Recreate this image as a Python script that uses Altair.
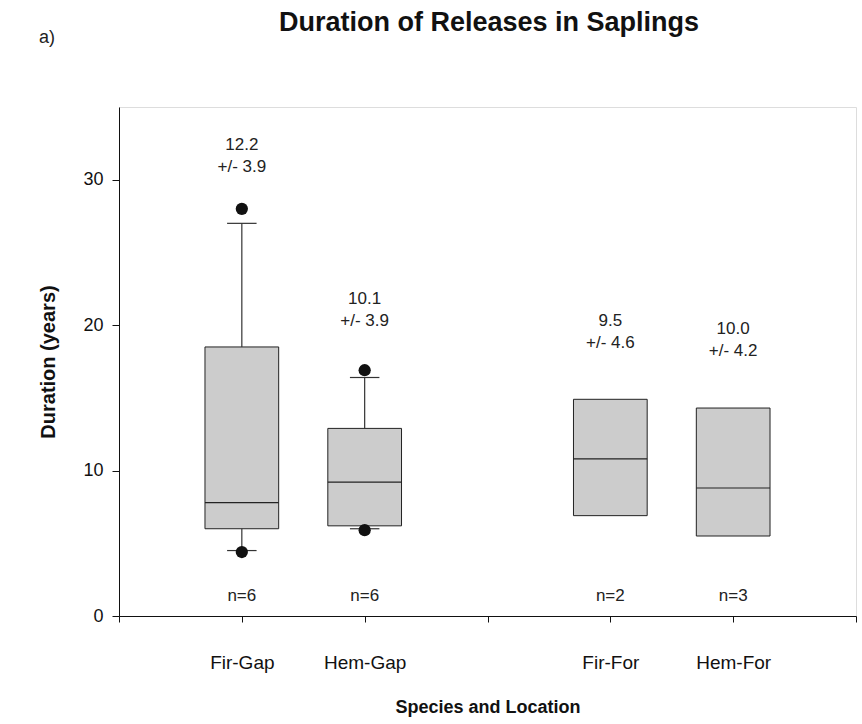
import altair as alt
import pandas as pd

# Box-plot summaries for release duration (years) by species and location
groups = ["Fir-Gap", "Hem-Gap", "Fir-For", "Hem-For"]
slot = [1, 2, 4, 5]                      # position of each group on the x axis
q1 = [6.0, 6.2, 6.9, 5.5]
median = [7.8, 9.2, 10.8, 8.8]
q3 = [18.5, 12.9, 14.9, 14.3]
whisker_lo = [4.5, 6.0, None, None]
whisker_hi = [27.0, 16.4, None, None]
mean = [12.2, 10.1, 9.5, 10.0]
sd = [3.9, 3.9, 4.6, 4.2]
n_obs = [6, 6, 2, 3]

outlier_group = ["Fir-Gap", "Fir-Gap", "Hem-Gap", "Hem-Gap"]
outlier_value = [28.0, 4.4, 16.9, 5.9]

TITLE = "Duration of Releases in Saplings"
PANEL = "a)"

BOX_HALF = 0.3
CAP_HALF = 0.12

boxes = pd.DataFrame({
    "group": groups, "slot": slot, "q1": q1, "median": median, "q3": q3,
    "lo": whisker_lo, "hi": whisker_hi, "mean": mean, "sd": sd, "n": n_obs,
})
boxes["left"] = boxes["slot"] - BOX_HALF
boxes["right"] = boxes["slot"] + BOX_HALF
boxes["cap_l"] = boxes["slot"] - CAP_HALF
boxes["cap_r"] = boxes["slot"] + CAP_HALF
boxes["top"] = boxes[["q3", "hi"]].max(axis=1)
boxes["label"] = [f"{m:.1f}\n+/- {s:.1f}" for m, s in zip(mean, sd)]
boxes["nlabel"] = [f"n={k}" for k in n_obs]
boxes["zero"] = 0.0

slot_of = dict(zip(groups, slot))
outliers = pd.DataFrame({
    "group": outlier_group,
    "slot": [slot_of[g] for g in outlier_group],
    "value": outlier_value,
})

whiskers = boxes.dropna(subset=["lo", "hi"])

FONT = "Liberation Sans"
INK = "#111"
xscale = alt.Scale(domain=[0, 6], nice=False, zero=False)
yscale = alt.Scale(domain=[0, 35], nice=False)

label_expr = " : ".join(
    f"datum.value == {s} ? '{g}'" for s, g in zip(slot, groups)
) + " : ''"

x_axis = alt.Axis(
    title="Species and Location", values=list(range(0, 7)), labelExpr=label_expr,
    grid=False, tickSize=6, labelPadding=31, titlePadding=26,
    labelFontSize=19, titleFontSize=18, labelFont=FONT, titleFont=FONT,
    titleFontWeight="bold", labelColor=INK, titleColor=INK,
    domainColor=INK, tickColor=INK, labelFlush=False,
)
y_axis = alt.Axis(
    title="Duration (years)", values=[0, 10, 20, 30], grid=False, tickSize=7,
    labelPadding=9, titlePadding=24, labelFontSize=18, titleFontSize=20,
    labelFont=FONT, titleFont=FONT, titleFontWeight="bold",
    labelColor=INK, titleColor=INK, domainColor=INK, tickColor=INK,
)

base = alt.Chart(boxes)

box = base.mark_rect(fill="#cccccc", stroke="#222", strokeWidth=1).encode(
    x=alt.X("left:Q", scale=xscale, axis=x_axis),
    x2="right:Q",
    y=alt.Y("q1:Q", scale=yscale, axis=y_axis),
    y2="q3:Q",
)

med = base.mark_rule(color="#222", strokeWidth=1.2).encode(
    x="left:Q", x2="right:Q", y="median:Q"
)

wb = alt.Chart(whiskers)
whisk_up = wb.mark_rule(color="#333", strokeWidth=1.2).encode(x="slot:Q", y="q3:Q", y2="hi:Q")
whisk_dn = wb.mark_rule(color="#333", strokeWidth=1.2).encode(x="slot:Q", y="q1:Q", y2="lo:Q")
cap_up = wb.mark_rule(color="#333", strokeWidth=1.2).encode(x="cap_l:Q", x2="cap_r:Q", y="hi:Q")
cap_dn = wb.mark_rule(color="#333", strokeWidth=1.2).encode(x="cap_l:Q", x2="cap_r:Q", y="lo:Q")

dots = alt.Chart(outliers).mark_circle(size=150, color=INK, opacity=1).encode(
    x="slot:Q", y="value:Q"
)

stats = base.mark_text(
    font=FONT, fontSize=17, color="#222", baseline="bottom", lineBreak="\n",
    lineHeight=22,
).encode(
    x="slot:Q",
    y=alt.Y("ylab:Q"),
    text="label:N",
).transform_calculate(ylab="datum.top + 4.8")

counts = base.mark_text(
    font=FONT, fontSize=17, color="#222", baseline="middle", dy=-20,
).encode(x="slot:Q", y="zero:Q", text="nlabel:N")

heading = alt.Chart(pd.DataFrame({"t": [TITLE]})).mark_text(
    font=FONT, fontSize=27, fontWeight="bold", color=INK,
    align="center", baseline="alphabetic",
).encode(x=alt.value(370), y=alt.value(-76), text="t:N")

panel = alt.Chart(pd.DataFrame({"t": [PANEL]})).mark_text(
    font=FONT, fontSize=18, color="#222", align="left", baseline="middle",
).encode(x=alt.value(-80), y=alt.value(-69), text="t:N")

chart = alt.layer(
    box, med, whisk_up, whisk_dn, cap_up, cap_dn, dots, stats, counts, heading, panel
).properties(
    width=737,
    height=509,
    autosize=alt.AutoSizeParams(type="none"),
    padding={"left": 119, "top": 107, "right": 6, "bottom": 108},
).configure_view(
    stroke=INK, strokeWidth=1
).configure(background="white")

chart.save("out.html", embed_options={"renderer": "svg", "actions": False})
